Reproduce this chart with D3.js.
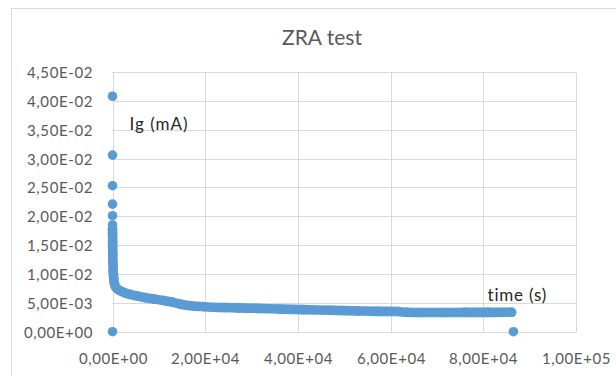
<!DOCTYPE html>
<html>
<head>
<meta charset="utf-8">
<script src="https://cdn.jsdelivr.net/npm/d3@7"></script>
<style>
  html, body { margin: 0; padding: 0; background: #ffffff; }
  svg { display: block; }
  text { font-family: Lato, "Liberation Sans", sans-serif; }
</style>
</head>
<body>
<svg id="chart" width="616" height="376"></svg>
<script>
// ---------------- data ----------------
const chartTitle = "ZRA test";
const yLabel = "Ig (mA)";
const xLabel = "time (s)";

const xTicks = [0, 20000, 40000, 60000, 80000, 100000];
const xTickLabels = ["0,00E+00", "2,00E+04", "4,00E+04", "6,00E+04", "8,00E+04", "1,00E+05"];
const yTicks = [0, 0.005, 0.01, 0.015, 0.02, 0.025, 0.03, 0.035, 0.04, 0.045];
const yTickLabels = ["0,00E+00", "5,00E-03", "1,00E-02", "1,50E-02", "2,00E-02",
                     "2,50E-02", "3,00E-02", "3,50E-02", "4,00E-02", "4,50E-02"];

// isolated readings (s, mA)
const isolatedTimes  = [0, 0, 0, 0, 0, 0, 0, 86500];
const isolatedValues = [0.0408, 0.0306, 0.0253, 0.0221, 0.0201, 0.0185, 0, 0];

// continuous record (s, mA)
const recordTimes = [0, 10, 30, 60, 100, 150, 250, 400, 700, 1400, 2480, 3780, 5290,
  7000, 8950, 11000, 12560, 14710, 16870, 19740, 24060, 27000, 31000, 36000,
  41000, 47000, 53000, 57000, 61500, 63500, 66000, 71000, 76000, 81000, 86100];
const recordValues = [0.0178, 0.0170, 0.0155, 0.0135, 0.0118, 0.0104, 0.0093, 0.0084, 0.0077,
  0.0072, 0.0068, 0.00645, 0.0062, 0.0059, 0.00567, 0.0054, 0.0052, 0.00475, 0.0045,
  0.00433, 0.00418, 0.00412, 0.00405, 0.00393, 0.00382, 0.00372, 0.0036, 0.00353,
  0.0035, 0.00336, 0.00333, 0.00333, 0.00334, 0.00335, 0.00336];

// ---------------- drawing ----------------
const svg = d3.select("#chart");
const W = 616, H = 376;
const plot = { left: 112.5, right: 576, top: 72, bottom: 331.7 };
const markerColor = "#5B9BD5";
const gridColor = "#d9d9d9";
const textColor = "#595959";

const x = d3.scaleLinear().domain([0, 100000]).range([plot.left, plot.right]);
const y = d3.scaleLinear().domain([0, 0.045]).range([plot.bottom, plot.top]);

// chart outer border (partially visible)
svg.append("rect")
  .attr("x", 11.5).attr("y", 8.5)
  .attr("width", W + 20).attr("height", H + 20)
  .attr("fill", "none").attr("stroke", gridColor).attr("stroke-width", 1);

// title
svg.append("text")
  .attr("x", 322).attr("y", 45)
  .attr("text-anchor", "middle")
  .attr("font-size", 21)
  .attr("fill", textColor)
  .text(chartTitle);

// gridlines + axes
const yAxis = d3.axisLeft(y)
  .tickValues(yTicks)
  .tickSize(-(plot.right - plot.left))
  .tickPadding(19.5)
  .tickFormat((d, i) => yTickLabels[i]);
const gy = svg.append("g").attr("transform", `translate(${plot.left},0)`).call(yAxis);
gy.select(".domain").remove();
gy.selectAll(".tick").attr("transform", d => `translate(0,${Math.round(y(d)) + 0.5})`);
gy.selectAll(".tick line").attr("stroke", gridColor);
gy.selectAll(".tick text")
  .attr("fill", textColor)
  .attr("font-size", 15)
  .attr("letter-spacing", 0.6)
  .attr("dy", null)
  .attr("y", 5.5);

const xAxis = d3.axisBottom(x)
  .tickValues(xTicks)
  .tickSize(-(plot.bottom - plot.top))
  .tickFormat((d, i) => xTickLabels[i]);
const gx = svg.append("g").attr("transform", `translate(0,${Math.round(plot.bottom) + 0.5})`).call(xAxis);
gx.select(".domain").remove();
gx.selectAll(".tick").attr("transform", d => `translate(${Math.round(x(d)) + 0.5},0)`);
gx.selectAll(".tick line").attr("stroke", gridColor);
gx.selectAll(".tick text")
  .attr("fill", textColor)
  .attr("font-size", 15)
  .attr("letter-spacing", 0.6)
  .attr("dy", null)
  .attr("y", 31);

// data labels
svg.append("text")
  .attr("x", 129.5).attr("y", 130)
  .attr("font-size", 17)
  .attr("letter-spacing", 1)
  .attr("fill", "#262626")
  .text(yLabel);
svg.append("text")
  .attr("x", 487.5).attr("y", 300.5)
  .attr("font-size", 17)
  .attr("letter-spacing", 0.8)
  .attr("fill", "#262626")
  .text(xLabel);

// series: continuous record
const record = recordTimes.map((t, i) => [t, recordValues[i]]);
const r = 4.8;
svg.append("path")
  .datum(record)
  .attr("d", d3.line().curve(d3.curveMonotoneX).x(d => x(d[0])).y(d => y(d[1])))
  .attr("fill", "none")
  .attr("stroke", markerColor)
  .attr("stroke-width", r * 2)
  .attr("stroke-linecap", "round")
  .attr("stroke-linejoin", "round");
svg.append("g").selectAll("circle")
  .data(record).join("circle")
  .attr("cx", d => x(d[0])).attr("cy", d => y(d[1])).attr("r", r)
  .attr("fill", markerColor);

// isolated readings
const isolated = isolatedTimes.map((t, i) => [t, isolatedValues[i]]);
svg.append("g").selectAll("circle")
  .data(isolated).join("circle")
  .attr("cx", d => x(d[0])).attr("cy", d => y(d[1])).attr("r", r)
  .attr("fill", markerColor);
</script>
</body>
</html>
